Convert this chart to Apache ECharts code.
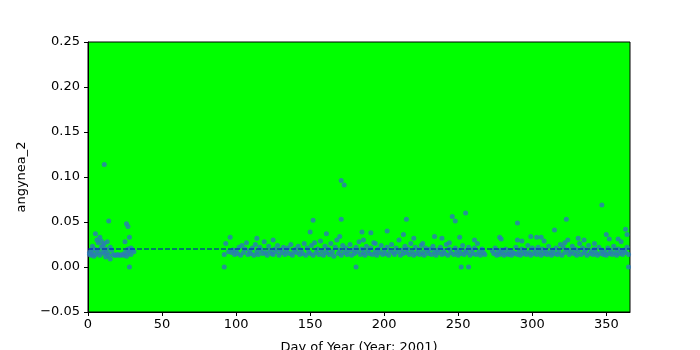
<!DOCTYPE html>
<html>
<head>
<meta charset="utf-8">
<script src="https://cdn.jsdelivr.net/npm/echarts@6/dist/echarts.min.js"></script>
<style>html,body{margin:0;padding:0;background:#fff;}#c{width:700px;height:350px;}</style>
</head>
<body>
<div id="c"></div>
<script>
// Early-year observations (days 1-31)
const earlyDays = [1,1,2,2,3,3,4,4,5,5,6,6,7,7,8,8,9,9,10,10,11,11,11,12,12,13,13,14,14,15,15,16,17,18,19,20,21,22,23,24,25,25,26,26,27,27,27,28,28,28,29,29,30,31];
const earlyValues = [0.014,0.016,0.013,0.018,0.015,0.023,0.012,0.020,0.037,0.014,0.019,0.030,0.016,0.027,0.033,0.013,0.022,0.029,0.017,0.024,0.114,0.015,0.026,0.020,0.011,0.028,0.016,0.051,0.013,0.022,0.009,0.019,0.014,0.013,0.013,0.014,0.013,0.013,0.014,0.013,0.016,0.028,0.048,0.012,0.020,0.045,0.015,0.000,0.033,0.018,0.021,0.014,0.019,0.017];

// Rest of year observations (days 92-365)
const lateDays = [
92,92,93,95,96,97,98,99,100,101,102,103,104,105,106,107,108,109,110,111,112,113,114,114,115,116,117,118,119,120,
121,122,123,124,125,125,126,127,128,129,130,131,132,133,134,135,136,137,138,139,140,141,142,143,144,145,146,147,148,149,
150,150,151,152,152,153,154,155,156,157,158,159,160,161,161,162,163,164,165,166,167,168,169,170,170,171,171,171,172,173,173,
174,175,176,177,178,179,180,181,181,182,183,184,185,185,186,186,187,188,189,190,191,191,192,193,194,194,195,196,197,198,199,200,
201,202,202,203,204,205,206,207,208,209,210,211,212,213,213,214,215,215,216,217,218,219,220,220,221,222,223,224,225,226,226,
227,228,229,230,231,232,233,234,234,235,236,237,238,239,239,240,241,242,243,244,244,245,246,247,248,248,249,250,251,251,
252,252,253,254,255,255,256,257,257,258,259,260,261,261,262,263,264,265,266,267,268,273,274,275,276,277,278,278,279,279,
280,281,282,283,284,285,286,287,288,289,290,290,290,291,292,293,293,294,295,296,297,298,299,299,300,301,302,303,303,304,
305,306,306,307,308,308,309,310,311,312,313,314,315,315,316,317,318,319,320,321,322,322,323,324,324,325,326,327,328,329,330,
331,331,332,333,334,335,335,336,337,338,339,340,341,342,342,343,344,345,346,347,347,348,349,350,350,351,352,352,353,354,355,
356,357,358,358,359,360,360,361,362,363,363,364,364,365,365];
const lateValues = [
0.000,0.014,0.026,0.017,0.033,0.016,0.019,0.014,0.018,0.015,0.022,0.013,0.024,0.016,0.020,0.027,0.014,0.018,0.015,0.021,0.013,0.025,0.032,0.017,0.014,0.022,0.019,0.015,0.028,0.016,
0.013,0.023,0.018,0.015,0.030,0.014,0.020,0.017,0.024,0.013,0.019,0.016,0.022,0.014,0.018,0.021,0.015,0.025,0.013,0.017,0.020,0.016,0.023,0.014,0.019,0.015,0.026,0.013,0.021,0.017,
0.039,0.015,0.024,0.052,0.013,0.027,0.016,0.020,0.014,0.029,0.018,0.013,0.023,0.037,0.016,0.020,0.014,0.026,0.017,0.012,0.022,0.030,0.015,0.034,0.019,0.053,0.096,0.013,0.024,0.091,0.016,
0.021,0.014,0.018,0.025,0.013,0.019,0.015,0.000,0.022,0.017,0.028,0.014,0.039,0.020,0.016,0.030,0.013,0.023,0.018,0.015,0.038,0.021,0.014,0.027,0.026,0.017,0.013,0.020,0.016,0.024,0.014,0.019,
0.015,0.040,0.022,0.013,0.018,0.025,0.016,0.014,0.021,0.017,0.030,0.013,0.019,0.036,0.015,0.023,0.053,0.016,0.020,0.014,0.026,0.017,0.032,0.013,0.022,0.015,0.019,0.014,0.024,0.026,0.016,
0.013,0.021,0.018,0.015,0.020,0.014,0.023,0.034,0.017,0.013,0.019,0.016,0.022,0.032,0.014,0.018,0.015,0.025,0.013,0.027,0.020,0.016,0.056,0.014,0.051,0.021,0.017,0.013,0.033,0.019,
0.000,0.015,0.024,0.014,0.060,0.018,0.016,0.000,0.022,0.013,0.019,0.015,0.030,0.021,0.014,0.026,0.017,0.013,0.020,0.016,0.014,0.018,0.015,0.021,0.013,0.017,0.033,0.014,0.031,0.019,
0.016,0.013,0.020,0.015,0.014,0.018,0.013,0.016,0.015,0.022,0.049,0.030,0.014,0.017,0.013,0.029,0.020,0.015,0.018,0.014,0.024,0.016,0.034,0.013,0.021,0.015,0.019,0.033,0.014,0.022,
0.017,0.033,0.013,0.020,0.029,0.015,0.018,0.014,0.023,0.016,0.013,0.019,0.041,0.015,0.021,0.014,0.017,0.025,0.013,0.022,0.027,0.016,0.053,0.030,0.019,0.014,0.017,0.023,0.015,0.020,0.013,
0.032,0.018,0.026,0.014,0.021,0.030,0.016,0.019,0.013,0.024,0.015,0.018,0.014,0.026,0.020,0.016,0.013,0.022,0.015,0.069,0.019,0.014,0.017,0.036,0.013,0.021,0.031,0.015,0.018,0.014,0.023,
0.016,0.013,0.031,0.020,0.015,0.028,0.018,0.014,0.019,0.042,0.016,0.036,0.022,0.000,0.014];

// Reference (median) level and axis ticks
const referenceLevel = 0.02;
const xRange = [0, 366];
const xTicks = [0, 50, 100, 150, 200, 250, 300, 350];
const yTicks = [-0.05, 0.00, 0.05, 0.10, 0.15, 0.20, 0.25];

const points = earlyDays.map((d, i) => [d, earlyValues[i]])
  .concat(lateDays.map((d, i) => [d, lateValues[i]]));

const chart = echarts.init(document.getElementById('c'), null, {renderer: 'canvas'});
const font = 'DejaVu Sans';
chart.setOption({
  animation: false,
  backgroundColor: '#ffffff',
  grid: {left: 88, right: 70, top: 42, bottom: 38, show: true, backgroundColor: '#00ff00',
         borderColor: '#000', borderWidth: 1, containLabel: false, outerBoundsMode: 'none'},
  xAxis: {
    type: 'value', min: xRange[0], max: xRange[1], interval: 50,
    name: 'Day of Year (Year: 2001)', nameLocation: 'middle', nameGap: 29,
    nameTextStyle: {fontFamily: font, fontSize: 13, color: '#000'},
    axisLine: {show: true, onZero: false, lineStyle: {color: '#000', width: 1}},
    axisTick: {show: true, length: 4, inside: false, customValues: xTicks, lineStyle: {color: '#000'}},
    axisLabel: {fontFamily: font, fontSize: 13, color: '#000', margin: 6, customValues: xTicks},
    splitLine: {show: false}
  },
  yAxis: {
    type: 'value', min: yTicks[0], max: yTicks[yTicks.length - 1], interval: 0.05,
    name: 'angynea_2', nameLocation: 'middle', nameGap: 60, nameRotate: 90,
    nameTextStyle: {fontFamily: font, fontSize: 13, color: '#000'},
    axisLine: {show: true, onZero: false, lineStyle: {color: '#000', width: 1}},
    axisTick: {show: true, length: 4, inside: false, lineStyle: {color: '#000'}},
    axisLabel: {fontFamily: font, fontSize: 13, color: '#000', margin: 8,
      formatter: v => (v < 0 ? '\u22120.05' : v.toFixed(2))},
    splitLine: {show: false}
  },
  series: [
    {type: 'scatter', data: points, symbol: 'circle', symbolSize: 5,
     itemStyle: {color: '#2c7bb6'}, z: 2},
    {type: 'line', data: [[xRange[0], referenceLevel], [xRange[1], referenceLevel]],
     symbol: 'none', lineStyle: {color: '#0000cc', width: 1.2, type: [5, 2]}, z: 3}
  ]
});
</script>
</body>
</html>
